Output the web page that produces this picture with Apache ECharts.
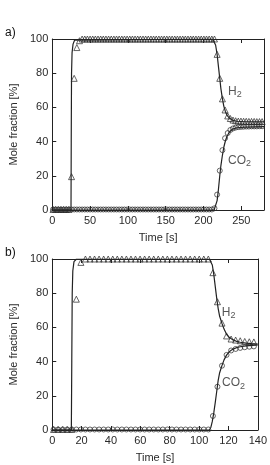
<!DOCTYPE html>
<html><head><meta charset="utf-8">
<script src="https://cdn.jsdelivr.net/npm/echarts@6/dist/echarts.min.js"></script>
<style>html,body{margin:0;padding:0;background:#fff}#c{width:270px;height:465px}</style>
</head><body><div id="c"></div>
<script>
// ---- Panel a) measured points ----
const timeA = [1,4.5,8,11.5,15,18.5,22,25.5,29,32.5,36,39.5,43,46.5,50,53.5,57,60.5,64,67.5,
  71,74.5,78,81.5,85,88.5,92,95.5,99,102.5,106,109.5,113,116.5,120,123.5,127,130.5,134,137.5,
  141,144.5,148,151.5,155,158.5,162,165.5,169,172.5,176,179.5,183,186.5,190,193.5,197,200.5,204,207.5,
  211,214.5,218,221.5,225,228.5,232,235.5,239,242.5,246,249.5,253,256.5,260,263.5,267,270.5,274,277.5];
const h2A = [0.3,0.3,0.3,0.3,0.3,0.3,0.3,19.5,77,95,99,
  100,100,100,100,100,100,100,100,100,100,
  100,100,100,100,100,100,100,100,100,100,
  100,100,100,100,100,100,100,100,100,100,
  100,100,100,100,100,100,100,100,100,100,
  100,100,100,100,100,100,100,100,100,100,100,
  91,77,65,58.5,55,53.5,52.6,52.2,
  52,52,51.9,51.9,51.8,51.8,51.8,51.7,51.7,51.7];
const co2A = [0.3,0.3,0.3,0.3,0.3,0.3,0.3,0.3,0.3,0.3,
  0.3,0.3,0.3,0.3,0.3,0.3,0.3,0.3,0.3,0.3,
  0.3,0.3,0.3,0.3,0.3,0.3,0.3,0.3,0.3,0.3,
  0.3,0.3,0.3,0.3,0.3,0.3,0.3,0.3,0.3,0.3,
  0.3,0.3,0.3,0.3,0.3,0.3,0.3,0.3,0.3,0.3,
  0.3,0.3,0.3,0.3,0.3,0.3,0.3,0.3,0.3,0.3,0.3,
  1,9,23,35,42,45,46.8,47.7,48.2,
  48.5,48.6,48.7,48.8,48.8,48.9,48.9,48.9,49,49];
// ---- Panel a) model curves ----
const modelH2A_t = [0,24.8,25.1,25.5,26.2,27.5,29.5,32,212,214,216,218,220,221.5,223,225,227,229,231,234,238,244,255,280];
const modelH2A_v = [0,0,40,80,92,97,99.3,100,100,99.3,96.5,91,83,77,71,65,60.5,57.5,55.5,53.8,52.6,51.9,51.6,51.5];
const modelCO2A_t = [0,214,216,218,219.5,221.5,223,225,227,229,231,234,238,244,255,280];
const modelCO2A_v = [0,0,1,5.5,11,20,26,32,37,40.5,43,45.5,47.2,48.1,48.5,48.7];

// ---- Panel b) measured points ----
const timeB = [0.9,4.0,7.1,10.2,13.3,16.4,19.5,22.6,25.7,28.8,31.9,35.0,38.1,41.2,44.3,47.4,50.5,53.6,56.7,59.8,
  62.9,66.0,69.1,72.2,75.3,78.4,81.5,84.6,87.7,90.8,93.9,97.0,100.1,103.2,106.3,109.4,112.5,115.6,118.7,121.8,
  124.9,128.0,131.1,134.2,137.3];
const h2B = [0.3,0.3,0.3,0.3,0.3,76.5,98,
  100,100,100,100,100,100,100,100,100,100,
  100,100,100,100,100,100,100,100,100,100,
  100,100,100,100,100,100,100,100,
  92,75,62.5,55,53.2,52.6,52.2,51.8,51.6,51.5];
const co2B = [0.3,0.3,0.3,0.3,0.3,0.3,0.3,0.3,0.3,0.3,
  0.3,0.3,0.3,0.3,0.3,0.3,0.3,0.3,0.3,0.3,
  0.3,0.3,0.3,0.3,0.3,0.3,0.3,0.3,0.3,0.3,
  0.3,0.3,0.3,0.3,0.3,
  8.2,25.3,37.6,43.9,46.5,47.4,48,48.4,48.7,48.9];
// ---- Panel b) model curves ----
const modelH2B_t = [0,13,13.3,13.6,14,14.8,16.5,107,108,109,110,111,112,113,114,115.5,117,118.7,120.5,122.5,125,128,132,136,140];
const modelH2B_v = [0,0,40,80,93,98.5,100,100,99,96.5,91,84,77,71,66.5,62.5,59,56,54.2,53,52,51.3,50.8,50.5,50.3];
const modelCO2B_t = [0,107,108,109,110,111,112,113,114,115.5,117,118.7,120.5,122.5,125,128,132,136,140];
const modelCO2B_v = [0,0,1.5,5,10,16,22.5,29,33.5,37.5,41,43.8,45.7,47,48,48.7,49.2,49.5,49.7];

// ---- Axes / labels ----
const xRangeA = [0, 280], xStepA = 50;
const xRangeB = [0, 140], xStepB = 20;
const yRange = [0, 100], yStep = 20;
const panelLabels = ['a)', 'b)'];
const xName = 'Time [s]';
const yName = 'Mole fraction [%]';
// annotation anchors [t, value]
const labelH2A = [232.4, 69.3], labelCO2A = [232.4, 29.0];
const labelH2B = [115.4, 68.8], labelCO2B = [115.6, 27.5];

const zip = (t, v) => t.map((x, i) => [x, v[i]]);
const ink = '#222';
const txt = '#2a2a2a';
const font = 'Liberation Sans, Arial, sans-serif';

function xAx(grid, range, step, top) {
  return {
    type: 'value', gridIndex: grid, min: range[0], max: range[1], interval: step,
    position: top ? 'top' : 'bottom',
    name: top ? '' : xName, nameLocation: 'middle', nameGap: 22,
    nameTextStyle: { fontSize: 11, color: txt, fontFamily: font },
    axisLine: { show: true, onZero: false, lineStyle: { color: ink, width: 1 } },
    axisTick: { show: true, inside: true, length: 4, lineStyle: { color: ink } },
    axisLabel: { show: !top, fontSize: 11, color: txt, fontFamily: font, margin: 5, showMaxLabel: range[1] % step === 0 },
    splitLine: { show: false }
  };
}
function yAx(grid, right) {
  return {
    type: 'value', gridIndex: grid, min: yRange[0], max: yRange[1], interval: yStep,
    position: right ? 'right' : 'left',
    name: right ? '' : yName, nameLocation: 'middle', nameGap: 29,
    nameTextStyle: { fontSize: 11, color: txt, fontFamily: font },
    axisLine: { show: true, onZero: false, lineStyle: { color: ink, width: 1 } },
    axisTick: { show: true, inside: true, length: 4, lineStyle: { color: ink } },
    axisLabel: { show: !right, fontSize: 11, color: txt, fontFamily: font, margin: 4 },
    splitLine: { show: false }
  };
}
const rich = {
  a: { fontSize: 12, lineHeight: 12, verticalAlign: 'top', color: txt, fontFamily: font },
  b: { fontSize: 9, lineHeight: 9, verticalAlign: 'top', padding: [5, 0, 0, 0], color: txt, fontFamily: font }
};
function lineS(xi, t, v) {
  return { type: 'line', xAxisIndex: xi, yAxisIndex: xi, data: zip(t, v), showSymbol: false, symbol: 'none',
    lineStyle: { color: ink, width: 1.2 }, silent: true, z: 2, animation: false };
}
function markS(xi, t, v, sym, size) {
  return { type: 'scatter', xAxisIndex: xi, yAxisIndex: xi, data: zip(t, v), symbol: sym, symbolSize: size,
    itemStyle: { color: 'rgba(255,255,255,0)', borderColor: '#2a2a2a', borderWidth: 0.9 }, z: 3, animation: false };
}
function labS(xi, pos, main, sub) {
  return { type: 'scatter', xAxisIndex: xi, yAxisIndex: xi, data: [pos], symbolSize: 0.1,
    itemStyle: { color: 'rgba(0,0,0,0)' },
    label: { show: true, position: 'right', distance: 0, formatter: '{a|' + main + '}{b|' + sub + '}', rich: rich },
    z: 4, animation: false, silent: true };
}

const chart = echarts.init(document.getElementById('c'), null, { renderer: 'canvas' });
chart.setOption({
  animation: false,
  backgroundColor: '#fff',
  title: [
    { text: panelLabels[0], left: 0, top: 22, textStyle: { fontSize: 12, fontWeight: 'normal', color: '#111', fontFamily: font } },
    { text: panelLabels[1], left: 0, top: 242, textStyle: { fontSize: 12, fontWeight: 'normal', color: '#111', fontFamily: font } }
  ],
  grid: [
    { left: 41, top: 39, width: 223, height: 171 },
    { left: 41, top: 259, width: 224, height: 171 }
  ],
  xAxis: [xAx(0, xRangeA, xStepA, false), xAx(0, xRangeA, xStepA, true), xAx(1, xRangeB, xStepB, false), xAx(1, xRangeB, xStepB, true)],
  yAxis: [yAx(0, false), yAx(0, true), yAx(1, false), yAx(1, true)],
  series: [
    lineS(0, modelH2A_t, modelH2A_v),
    lineS(0, modelCO2A_t, modelCO2A_v),
    markS(0, timeA, h2A, 'triangle', 6),
    markS(0, timeA, co2A, 'circle', 5),
    labS(0, labelH2A, 'H', '2'),
    labS(0, labelCO2A, 'CO', '2'),
    lineS(2, modelH2B_t, modelH2B_v),
    lineS(2, modelCO2B_t, modelCO2B_v),
    markS(2, timeB, h2B, 'triangle', 6),
    markS(2, timeB, co2B, 'circle', 5),
    labS(2, labelH2B, 'H', '2'),
    labS(2, labelCO2B, 'CO', '2')
  ]
});
</script></body></html>
